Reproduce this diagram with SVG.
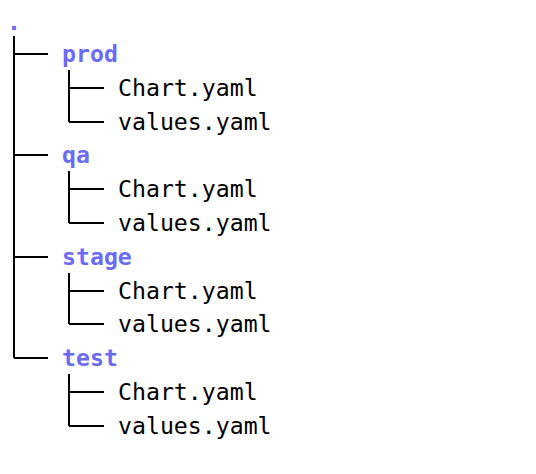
<svg xmlns="http://www.w3.org/2000/svg" width="536" height="474" viewBox="0 0 536 474">
<style>
text{font-family:"DejaVu Sans Mono","Liberation Mono",monospace;font-size:23.2px;fill:#000}
.dir{fill:#6b6bf5;font-weight:bold}
.ln{stroke:#000;stroke-width:2;fill:none}
</style>
<rect width="536" height="474" fill="#fff"/>
<g id="connectors" class="ln">
<path d="M14 36V358M14 54H48M14 155H48M14 257H48M14 358H48"/>
<path d="M69 70V122M69 88H104M69 122H104"/>
<path d="M69 171V223M69 189H104M69 223H104"/>
<path d="M69 273V324M69 291H104M69 324H104"/>
<path d="M69 374V426M69 392H104M69 426H104"/>
</g>
<g id="root"><text class="dir" x="7" y="30">.</text></g>
<g id="prod"><text class="dir" x="62" y="62">prod</text></g>
<g id="prod-chart"><text x="118" y="96">Chart.yaml</text></g>
<g id="prod-values"><text x="118" y="130">values.yaml</text></g>
<g id="qa"><text class="dir" x="62" y="163">qa</text></g>
<g id="qa-chart"><text x="118" y="197">Chart.yaml</text></g>
<g id="qa-values"><text x="118" y="231">values.yaml</text></g>
<g id="stage"><text class="dir" x="62" y="265">stage</text></g>
<g id="stage-chart"><text x="118" y="299">Chart.yaml</text></g>
<g id="stage-values"><text x="118" y="332">values.yaml</text></g>
<g id="test"><text class="dir" x="62" y="366">test</text></g>
<g id="test-chart"><text x="118" y="400">Chart.yaml</text></g>
<g id="test-values"><text x="118" y="434">values.yaml</text></g>
</svg>
